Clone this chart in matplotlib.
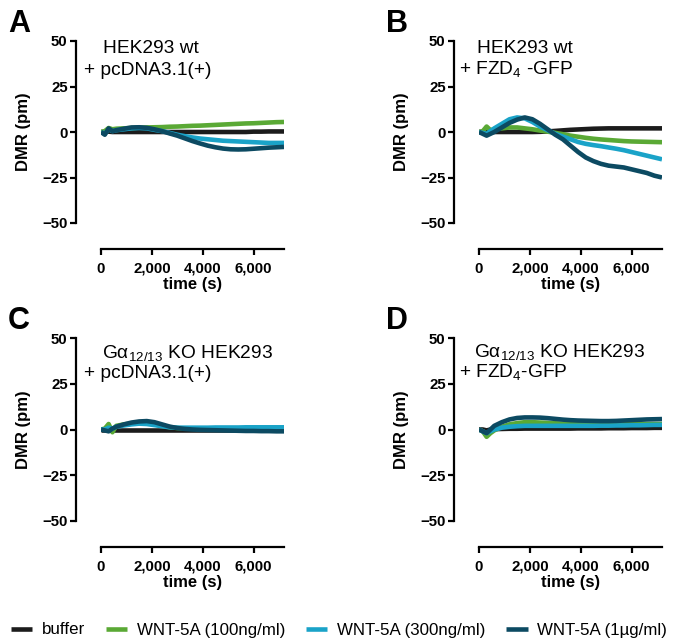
# DMR traces, 4 panels (Prism style)
import numpy as np
import matplotlib.pyplot as plt

plt.rcParams['font.family'] = ['Liberation Sans', 'DejaVu Sans']
plt.rcParams['mathtext.fontset'] = 'custom'
plt.rcParams['mathtext.rm'] = 'Liberation Sans'

# time points (s)
t = [0, 150, 300, 450, 600, 900, 1200, 1500, 1800, 2100, 2400, 2700, 3000,
     3300, 3600, 3900, 4200, 4500, 4800, 5100, 5400, 5700, 6000, 6300, 6600, 6900, 7200]

series_names = ['buffer', 'WNT-5A (100ng/ml)', 'WNT-5A (300ng/ml)', 'WNT-5A (1µg/ml)']
colores = ['#1c1c1c', '#5aa935', '#1aa3c8', '#0c4a62']

# Panel A - HEK293 wt + pcDNA3.1(+)
a_buffer = [0, 0, 0.2, 0, 0, 0, 0, 0, 0, 0, 0, 0, 0, 0, 0, 0, 0, 0, 0, 0, 0, 0, 0.2, 0.2, 0.3, 0.3, 0.3]
a_100 = [0, 0.5, 2.2, 1.5, 1.8, 2.0, 2.2, 2.4, 2.5, 2.6, 2.7, 2.9, 3.0, 3.2, 3.4, 3.5, 3.7, 3.9, 4.1, 4.3, 4.5, 4.7, 4.8, 5.0, 5.2, 5.4, 5.5]
a_300 = [0, -1.0, 1.5, 0.5, 1.0, 1.5, 2.0, 2.2, 2.0, 1.2, 0.5, -0.5, -1.5, -2.3, -3.0, -3.6, -4.0, -4.4, -4.8, -5.0, -5.2, -5.4, -5.6, -5.8, -6.0, -6.0, -6.0]
a_1ug = [0, -1.5, 2.0, 0.5, 1.0, 1.8, 2.5, 2.6, 2.3, 1.5, 0.5, -0.8, -2.0, -3.5, -5.0, -6.3, -7.5, -8.4, -9.1, -9.5, -9.6, -9.5, -9.2, -8.9, -8.6, -8.4, -8.2]

# Panel B - HEK293 wt + FZD4-GFP
b_buffer = [0, 0, 0, 0, 0, 0, 0, 0, 0, 0, 0.1, 0.3, 0.6, 0.9, 1.2, 1.4, 1.6, 1.8, 1.9, 2.0, 2.0, 2.0, 2.0, 2.0, 2.0, 2.0, 2.0]
b_100 = [0, 0.5, 3.0, 1.0, 1.5, 2.0, 2.5, 2.5, 2.0, 1.5, 0.8, 0.2, -0.5, -1.2, -2.0, -2.6, -3.2, -3.7, -4.1, -4.4, -4.7, -5.0, -5.2, -5.3, -5.4, -5.5, -5.6]
b_300 = [0, -0.5, -1.0, 0.5, 2.0, 4.5, 7.0, 8.0, 7.5, 5.5, 3.0, 1.0, -1.0, -2.5, -4.0, -5.5, -6.5, -7.2, -7.8, -8.5, -9.2, -10.0, -11.0, -12.0, -13.0, -14.0, -15.0]
b_1ug = [0, -1.0, -2.0, -1.0, 0, 2.5, 5.0, 6.8, 8.0, 7.0, 4.5, 1.5, -1.5, -4.0, -7.5, -11.0, -14.0, -16.0, -17.5, -18.5, -19.0, -19.5, -20.5, -21.5, -22.5, -24.0, -25.0]

# Panel C - Ga12/13 KO HEK293 + pcDNA3.1(+)
c_buffer = [0, 0, 0, 0, 0, 0, 0, 0, 0, 0, 0, 0, 0, 0, 0, 0, 0, 0, 0, 0, 0, 0, 0, 0, 0, 0, 0]
c_100 = [0, 0.5, 3.0, -1.5, 2.0, 2.8, 3.2, 3.5, 3.4, 2.8, 2.0, 1.3, 0.8, 0.6, 0.5, 0.5, 0.5, 0.5, 0.5, 0.5, 0.5, 0.5, 0.5, 0.5, 0.5, 0.5, 0.5]
c_300 = [0, 0, 1.0, 0.5, 1.5, 2.2, 2.8, 3.2, 3.0, 2.4, 1.8, 1.2, 1.0, 1.0, 1.0, 1.0, 1.0, 1.1, 1.1, 1.1, 1.1, 1.2, 1.2, 1.2, 1.2, 1.2, 1.2]
c_1ug = [0, -0.5, -1.0, 0.5, 1.5, 2.8, 3.8, 4.4, 4.6, 4.0, 2.8, 1.6, 0.8, 0.3, 0, -0.2, -0.3, -0.4, -0.5, -0.6, -0.7, -0.8, -0.8, -0.9, -0.9, -1.0, -1.0]

# Panel D - Ga12/13 KO HEK293 + FZD4-GFP
d_buffer = [0, 0, -0.5, 0, 0.2, 0.3, 0.4, 0.4, 0.5, 0.5, 0.5, 0.5, 0.5, 0.5, 0.5, 0.6, 0.6, 0.6, 0.6, 0.7, 0.7, 0.7, 0.8, 0.8, 0.8, 0.9, 0.9]
d_100 = [0, -1.0, -4.0, -2.0, -0.5, 1.5, 2.8, 3.5, 4.0, 4.0, 3.8, 3.6, 3.4, 3.2, 3.1, 3.0, 3.0, 3.0, 3.0, 3.0, 3.0, 3.0, 3.0, 3.0, 3.0, 3.0, 3.0]
d_300 = [0, -1.0, -2.0, -1.0, 0, 1.0, 1.5, 1.8, 2.0, 2.0, 2.0, 2.0, 2.0, 2.0, 2.0, 2.0, 2.0, 2.0, 2.1, 2.1, 2.2, 2.2, 2.3, 2.3, 2.4, 2.5, 2.5]
d_1ug = [0, -1.0, -2.0, 0, 2.0, 4.0, 5.5, 6.3, 6.6, 6.6, 6.5, 6.2, 5.8, 5.4, 5.1, 4.9, 4.8, 4.7, 4.6, 4.6, 4.7, 4.9, 5.1, 5.3, 5.5, 5.6, 5.7]

paneles = [
    ('A', 'HEK293 wt', '+ pcDNA3.1(+)', [a_buffer, a_100, a_300, a_1ug]),
    ('B', 'HEK293 wt', r'+ FZD$_{\mathregular{4}}$ -GFP', [b_buffer, b_100, b_300, b_1ug]),
    ('C', r'G$\mathregular{\alpha}_{\mathregular{12/13}}$ KO HEK293', '+ pcDNA3.1(+)', [c_buffer, c_100, c_300, c_1ug]),
    ('D', r'G$\mathregular{\alpha}_{\mathregular{12/13}}$ KO HEK293', r'+ FZD$_{\mathregular{4}}$-GFP', [d_buffer, d_100, d_300, d_1ug]),
]

W, H = 674, 642
fig = plt.figure(figsize=(W / 100, H / 100), dpi=100)

# posiciones en pixeles: (x0, x1, ytop, ybottom)
cajas = [(101, 284, 41, 223), (479, 662, 41, 223), (101, 284, 338, 521), (479, 662, 338, 521)]
# baseline de los textos (offset desde ytop) y x de inicio
textos_pos = [(103, 84, 12, 34), (477, 459, 12, 34), (102, 84, 21, 40), (474, 459, 20, 40)]

lineas = []
for (letra, txt1, txt2, datos), (x0, x1, yt, yb), (tx1, tx2, ty1, ty2) in zip(paneles, cajas, textos_pos):
    ax = fig.add_axes([x0 / W, 1 - yb / H, (x1 - x0) / W, (yb - yt) / H])
    lineas = []
    for vals, col, nom in zip(datos, colores, series_names):
        l, = ax.plot(t, vals, color=col, lw=3.3, label=nom, solid_capstyle='butt')
        lineas.append(l)
    ax.set_xlim(0, 7200)
    ax.set_ylim(-50, 50)
    ax.set_yticks([-50, -25, 0, 25, 50])
    ax.set_xticks([0, 2000, 4000, 6000])
    ax.set_xticklabels(['0', '2,000', '4,000', '6,000'])
    for s in ['top', 'right']:
        ax.spines[s].set_visible(False)
    ax.spines['left'].set_position(('outward', 18))
    ax.spines['bottom'].set_position(('outward', 19))
    ax.spines['left'].set_linewidth(1.6)
    ax.spines['bottom'].set_linewidth(1.6)
    ax.spines['bottom'].set_bounds(0, 7200)
    ax.tick_params(width=1.6, length=4, labelsize=10.8)
    ax.tick_params(axis='x', pad=5)
    ax.tick_params(axis='y', pad=2)
    for lab in ax.get_xticklabels() + ax.get_yticklabels():
        lab.set_fontweight('bold')
    ax.set_ylabel('DMR (pm)', fontweight='bold', fontsize=12, labelpad=8)
    ax.set_xlabel('time (s)', fontweight='bold', fontsize=12, labelpad=1)
    ax.patch.set_visible(False)
    # textos del panel
    fig.text(tx1 / W, 1 - (yt + ty1) / H, txt1, fontsize=13.8, ha='left', va='baseline')
    fig.text(tx2 / W, 1 - (yt + ty2) / H, txt2, fontsize=13.8, ha='left', va='baseline')
    fig.text((x0 - 93) / W, 1 - (yt - 9) / H, letra, fontsize=22, fontweight='bold', ha='left', va='baseline')

fig.legend(handles=lineas, loc='center', bbox_to_anchor=(339 / W, 1 - 630 / H), ncol=4,
           frameon=False, fontsize=12.2, handlelength=1.25, handletextpad=0.55,
           columnspacing=1.25, borderaxespad=0, borderpad=0)

plt.savefig('out.png', dpi=100)
